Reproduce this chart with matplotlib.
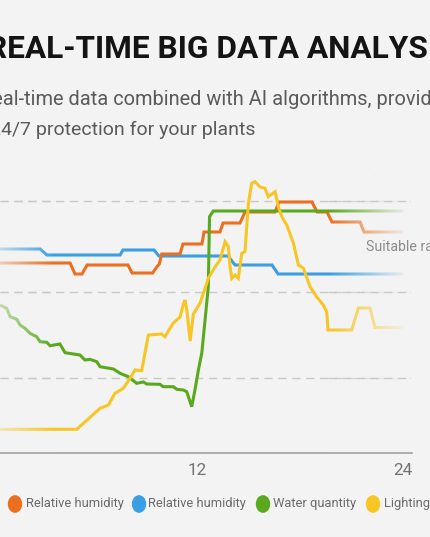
import matplotlib
matplotlib.use("Agg")
import matplotlib.pyplot as plt
import numpy as np
from matplotlib.colors import to_rgb

# ---------------- data (hours, relative level) ----------------
orange_hours = [0.46, 4.55, 4.84, 5.25, 5.54, 7.93, 8.17, 9.37, 9.61, 9.76, 9.90, 10.97, 11.14,
                12.25, 12.37, 13.30, 13.48, 14.47, 14.76, 16.51, 16.75, 18.67, 18.97, 19.55,
                19.84, 21.48, 21.71, 24.0]
orange_vals = [190, 190, 179, 179, 188, 188, 180, 180, 186, 189, 199, 199, 209,
               209, 221, 221, 230, 230, 241, 241, 251, 251, 241, 241,
               231, 231, 221, 221]

blue_hours = [0.46, 2.80, 3.20, 7.47, 7.64, 9.45, 9.74, 13.77, 14.18, 16.34, 16.69, 24.0]
blue_vals = [204, 204, 198, 198, 203, 203, 197, 197, 188, 188, 179, 179]

green_hours = [0.46, 0.85, 1.05, 1.44, 1.63, 1.92, 2.21, 2.60, 2.80, 3.19, 3.38, 3.96, 4.26,
               5.13, 5.42, 5.71, 6.11, 6.30, 7.08, 7.47, 7.95, 8.44, 8.83, 9.03, 9.80, 9.99,
               10.58, 10.78, 11.16, 11.36, 11.65, 11.84, 12.04, 12.24, 12.43, 12.62, 12.69,
               12.91, 24.0]
green_vals = [148, 144.7, 136.3, 133.7, 128, 124.7, 119.7, 116.3, 111.3, 110.7, 107.3, 109, 100.3,
              98, 93, 93.7, 91.3, 86.3, 84, 79.7, 76.3, 69.7, 71, 69, 68.7, 66.3,
              66.3, 63.7, 63, 61.3, 46.3, 63, 83, 100, 133, 166.3, 236.3,
              242, 242]

yellow_hours = [0.46, 4.94, 6.30, 6.79, 7.17, 7.66, 8.05, 8.34, 8.73, 9.12, 9.90, 10.09, 10.39,
                10.58, 10.97, 11.15, 11.26, 11.38, 11.56, 11.75, 12.14, 12.33, 12.53, 12.62,
                13.01, 13.30, 13.60, 13.79, 13.89, 13.99, 14.18, 14.37, 14.57, 14.76, 14.96,
                15.15, 15.35, 15.64, 15.93, 16.12, 16.52, 16.71, 16.91, 17.20, 17.59, 17.88,
                18.17, 18.56, 18.95, 19.33, 19.53, 19.61, 20.99, 21.38, 22.06, 22.35, 24.0]
yellow_vals = [23.7, 23.7, 44.7, 48, 59.7, 64.7, 74.7, 83, 82.3, 118, 119, 116.3, 125,
               130, 136, 148, 153, 141, 112, 139, 150, 159.7, 169.7, 174.7,
               186, 193, 211.3, 206.3, 186.3, 174.7, 178, 174.7, 199.7, 201.3, 249.7,
               269.7, 271.3, 266, 264.7, 256.3, 261.3, 246.3, 236.3, 228, 209.7, 188,
               184.7, 166.3, 156, 148, 141.3, 123, 123, 145, 145, 125.5, 125.5]

series_labels = ["Relative humidity", "Relative humidity", "Water quantity", "Lighting"]
series_colors = ["#EB6F1F", "#3A9FE2", "#5AA81C", "#F7C624"]

grid_levels = [252, 161, 75]
tick_hours = [12, 24]
tick_labels = ["12", "24"]

title = "REAL-TIME BIG DATA ANALYSIS"
subtitle = ["Real-time data combined with AI algorithms, providing",
            "24/7 protection for your plants"]
range_label = "Suitable range"

BG = "#f3f3f3"

# ---------------- figure ----------------
W, H = 430, 537
fig = plt.figure(figsize=(W / 100, H / 100), dpi=100)
fig.patch.set_facecolor(BG)
ax = fig.add_axes([0, 0, 1, 1])
ax.set_facecolor(BG)
ax.axis("off")

x_left, x_grid_end, x_axis_end = 0.461, 24.40, 24.51

def draw_grid(x0, x1, z):
    for g in grid_levels:
        ax.plot([x0, x1], [g, g], color="#c9c9c9", lw=1.0, dashes=(6, 4), zorder=z,
                solid_capstyle="butt", dash_capstyle="butt")

draw_grid(x_left, x_grid_end, 1)

series = [(blue_hours, blue_vals, 1), (orange_hours, orange_vals, 0),
          (green_hours, green_vals, 2), (yellow_hours, yellow_vals, 3)]
for i, (hx, hv, ci) in enumerate(series):
    ax.plot(hx, hv, color=series_colors[ci], lw=2.2, zorder=2 + i * 0.1,
            solid_joinstyle="miter", solid_capstyle="butt")

# fade overlays at left and right ends
bg_rgb = to_rgb(BG)
def fade(x0, x1, a0, a1):
    n = 200
    img = np.zeros((1, n, 4))
    img[..., :3] = bg_rgb
    img[0, :, 3] = np.linspace(a0, a1, n)
    ax.imshow(img, extent=(x0, x1, 3, 300), aspect="auto", interpolation="bilinear",
              zorder=3)

fade(0.40, 3.6, 0.72, 0.0)
fade(19.6, 24.35, 0.0, 1.0)
ax.set_xlim(0.461, 25.56)
ax.set_ylim(-84, 453)

draw_grid(x_left, 3.6, 4)
draw_grid(19.6, x_grid_end, 4)

# x axis line and ticks
ax.plot([x_left, x_axis_end], [0, 0], color="#9a9a9a", lw=1.1, zorder=5)
for th, tl in zip(tick_hours, tick_labels):
    ax.text(th, -22, tl, ha="center", va="baseline", fontsize=12.3,
            family="Roboto", color="#727272", zorder=5)

ax.text(21.83, 206, range_label, ha="left", va="center", fontsize=10.2,
        family="Roboto", color="#8c8c8c", zorder=5)

# title and subtitle
def fx(px):
    return px / W
def fy(py):
    return 1 - py / H

fig.text(fx(-13), fy(58), title, ha="left", va="baseline", fontsize=22.8,
         family="Roboto", fontweight="bold", color="#141414")
fig.text(fx(-20.5), fy(105), subtitle[0], ha="left", va="baseline", fontsize=14.4,
         family="Roboto", color="#5a5a5a")
fig.text(fx(-10.5), fy(135), subtitle[1], ha="left", va="baseline", fontsize=14,
         family="Roboto", color="#5a5a5a")

# legend
circ_px = [15, 139, 263, 373]
text_px = [26, 148, 273, 384]
for lab, col, cx, tx in zip(series_labels, series_colors, circ_px, text_px):
    fig.patches.append(plt.Circle((fx(cx), fy(504)), 6.5 / W, color=col,
                                  transform=fig.transFigure, figure=fig))
    fig.text(fx(tx), fy(504), lab, ha="left", va="center", fontsize=9.3,
             family="Roboto", color="#6a6a6a")

fig.savefig("out.png", dpi=100, facecolor=BG)
